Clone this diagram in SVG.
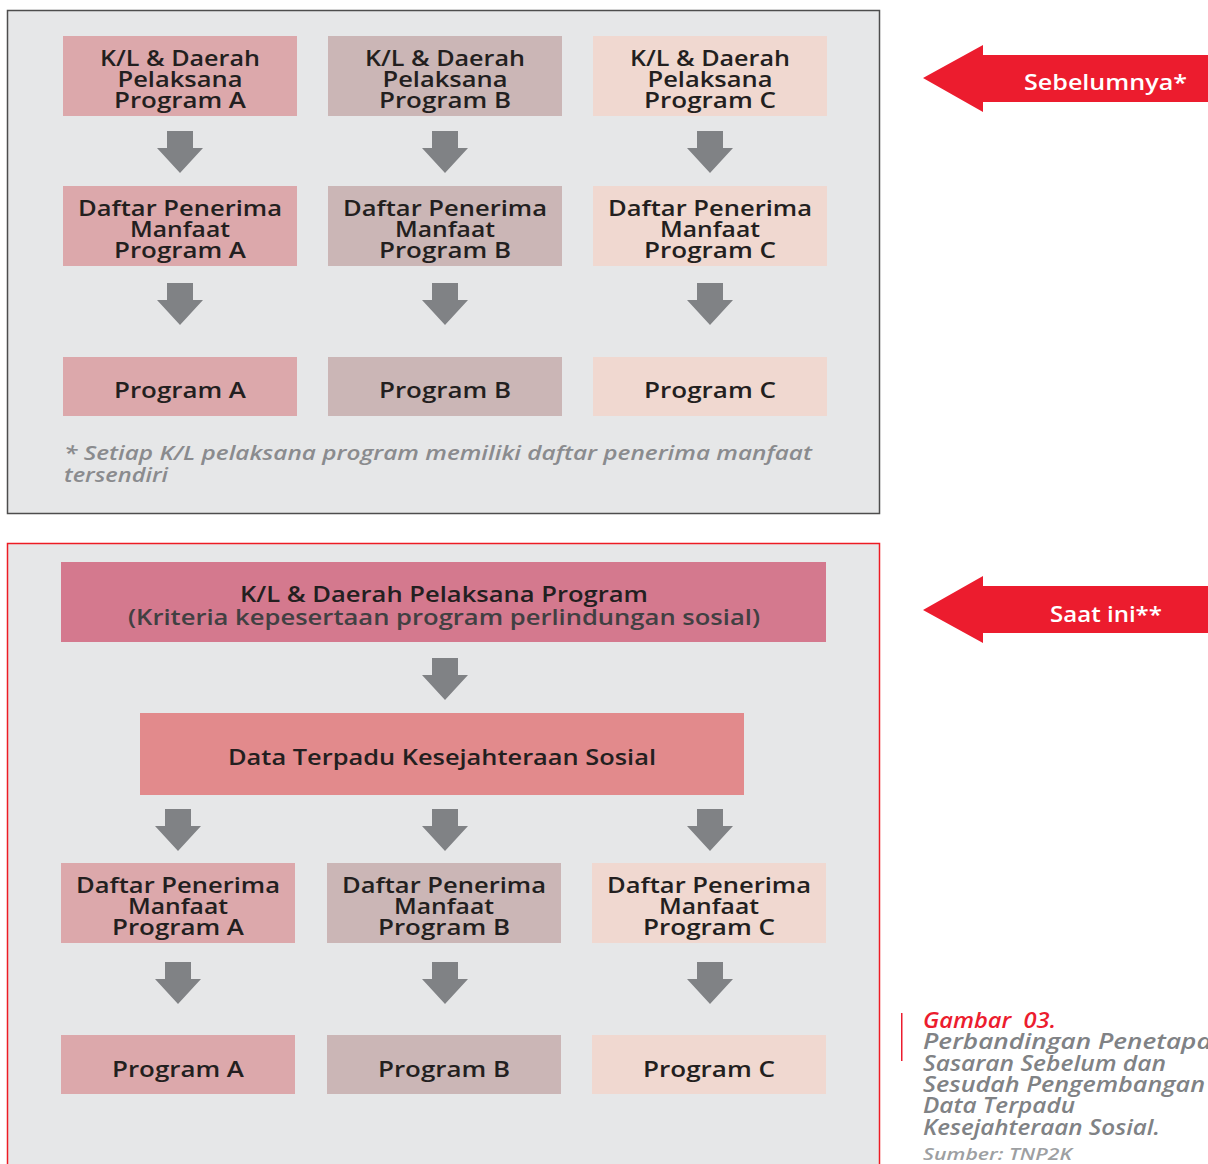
<svg xmlns="http://www.w3.org/2000/svg" width="1208" height="1164" viewBox="0 0 1208 1164">
<style>
.frame{fill:#e6e7e8}
.a{fill:#dca8ab}.b{fill:#cbb6b6}.c{fill:#f0d8d0}
.t{font-family:"Open Sans","Liberation Sans",sans-serif;font-weight:600;font-size:22px;fill:#231f20;text-anchor:middle}
.t2{fill:#414042}
.note{font-family:"Open Sans","Liberation Sans",sans-serif;font-style:italic;font-weight:600;font-size:20px;fill:#8a8b8e}
.cap{font-family:"Open Sans","Liberation Sans",sans-serif;font-style:italic;font-weight:600;font-size:21px;fill:#808285}
.red{fill:#ec1c2e}
.lbl{font-family:"Open Sans","Liberation Sans",sans-serif;font-weight:600;font-size:22px;fill:#ffffff}
.arr{fill:#808285}
</style>
<defs>
<path id="dn" d="M-13,0 h26 v17 h10 l-23,25 l-23,-25 h10 z"/>
</defs>

<!-- Top panel -->
<rect class="frame" x="7.5" y="10.5" width="872" height="503" stroke="#4d4d4d" stroke-width="1.5"/>

<g id="kl-a"><rect class="a" x="63" y="36" width="234" height="80"/>
<text class="t"><tspan x="180" y="66" textLength="160" lengthAdjust="spacingAndGlyphs">K/L &amp; Daerah</tspan><tspan x="180" y="87" textLength="125" lengthAdjust="spacingAndGlyphs">Pelaksana</tspan><tspan x="180" y="108" textLength="132" lengthAdjust="spacingAndGlyphs">Program A</tspan></text></g>
<g id="kl-b"><rect class="b" x="328" y="36" width="234" height="80"/>
<text class="t"><tspan x="445" y="66" textLength="160" lengthAdjust="spacingAndGlyphs">K/L &amp; Daerah</tspan><tspan x="445" y="87" textLength="125" lengthAdjust="spacingAndGlyphs">Pelaksana</tspan><tspan x="445" y="108" textLength="132" lengthAdjust="spacingAndGlyphs">Program B</tspan></text></g>
<g id="kl-c"><rect class="c" x="593" y="36" width="234" height="80"/>
<text class="t"><tspan x="710" y="66" textLength="160" lengthAdjust="spacingAndGlyphs">K/L &amp; Daerah</tspan><tspan x="710" y="87" textLength="125" lengthAdjust="spacingAndGlyphs">Pelaksana</tspan><tspan x="710" y="108" textLength="132" lengthAdjust="spacingAndGlyphs">Program C</tspan></text></g>

<g id="dpm-a1"><rect class="a" x="63" y="186" width="234" height="80"/>
<text class="t"><tspan x="180" y="216" textLength="204" lengthAdjust="spacingAndGlyphs">Daftar Penerima</tspan><tspan x="180" y="237" textLength="100" lengthAdjust="spacingAndGlyphs">Manfaat</tspan><tspan x="180" y="258" textLength="132" lengthAdjust="spacingAndGlyphs">Program A</tspan></text></g>
<g id="dpm-b1"><rect class="b" x="328" y="186" width="234" height="80"/>
<text class="t"><tspan x="445" y="216" textLength="204" lengthAdjust="spacingAndGlyphs">Daftar Penerima</tspan><tspan x="445" y="237" textLength="100" lengthAdjust="spacingAndGlyphs">Manfaat</tspan><tspan x="445" y="258" textLength="132" lengthAdjust="spacingAndGlyphs">Program B</tspan></text></g>
<g id="dpm-c1"><rect class="c" x="593" y="186" width="234" height="80"/>
<text class="t"><tspan x="710" y="216" textLength="204" lengthAdjust="spacingAndGlyphs">Daftar Penerima</tspan><tspan x="710" y="237" textLength="100" lengthAdjust="spacingAndGlyphs">Manfaat</tspan><tspan x="710" y="258" textLength="132" lengthAdjust="spacingAndGlyphs">Program C</tspan></text></g>

<g id="prog-a1"><rect class="a" x="63" y="357" width="234" height="59"/>
<text class="t" x="180" y="398" textLength="132" lengthAdjust="spacingAndGlyphs">Program A</text></g>
<g id="prog-b1"><rect class="b" x="328" y="357" width="234" height="59"/>
<text class="t" x="445" y="398" textLength="132" lengthAdjust="spacingAndGlyphs">Program B</text></g>
<g id="prog-c1"><rect class="c" x="593" y="357" width="234" height="59"/>
<text class="t" x="710" y="398" textLength="132" lengthAdjust="spacingAndGlyphs">Program C</text></g>

<text class="note"><tspan x="64" y="460" textLength="748" lengthAdjust="spacingAndGlyphs">* Setiap K/L pelaksana program memiliki daftar penerima manfaat</tspan><tspan x="64" y="482" textLength="104" lengthAdjust="spacingAndGlyphs">tersendiri</tspan></text>

<!-- Bottom panel -->
<rect class="frame" x="7.5" y="543.5" width="872" height="640" stroke="#ed1c24" stroke-width="1.5"/>

<g id="kl-all"><rect x="61" y="562" width="765" height="80" fill="#d4798e"/>
<text class="t"><tspan x="444" y="602" textLength="408" lengthAdjust="spacingAndGlyphs">K/L &amp; Daerah Pelaksana Program</tspan><tspan class="t2" x="444" y="625" textLength="632" lengthAdjust="spacingAndGlyphs">(Kriteria kepesertaan program perlindungan sosial)</tspan></text></g>

<g id="dtks"><rect x="140" y="713" width="604" height="82" fill="#e28a8c"/>
<text class="t" x="442" y="765" textLength="428" lengthAdjust="spacingAndGlyphs">Data Terpadu Kesejahteraan Sosial</text></g>

<g id="dpm-a2"><rect class="a" x="61" y="863" width="234" height="80"/>
<text class="t"><tspan x="178" y="893" textLength="204" lengthAdjust="spacingAndGlyphs">Daftar Penerima</tspan><tspan x="178" y="914" textLength="100" lengthAdjust="spacingAndGlyphs">Manfaat</tspan><tspan x="178" y="935" textLength="132" lengthAdjust="spacingAndGlyphs">Program A</tspan></text></g>
<g id="dpm-b2"><rect class="b" x="327" y="863" width="234" height="80"/>
<text class="t"><tspan x="444" y="893" textLength="204" lengthAdjust="spacingAndGlyphs">Daftar Penerima</tspan><tspan x="444" y="914" textLength="100" lengthAdjust="spacingAndGlyphs">Manfaat</tspan><tspan x="444" y="935" textLength="132" lengthAdjust="spacingAndGlyphs">Program B</tspan></text></g>
<g id="dpm-c2"><rect class="c" x="592" y="863" width="234" height="80"/>
<text class="t"><tspan x="709" y="893" textLength="204" lengthAdjust="spacingAndGlyphs">Daftar Penerima</tspan><tspan x="709" y="914" textLength="100" lengthAdjust="spacingAndGlyphs">Manfaat</tspan><tspan x="709" y="935" textLength="132" lengthAdjust="spacingAndGlyphs">Program C</tspan></text></g>

<g id="prog-a2"><rect class="a" x="61" y="1035" width="234" height="59"/>
<text class="t" x="178" y="1077" textLength="132" lengthAdjust="spacingAndGlyphs">Program A</text></g>
<g id="prog-b2"><rect class="b" x="327" y="1035" width="234" height="59"/>
<text class="t" x="444" y="1077" textLength="132" lengthAdjust="spacingAndGlyphs">Program B</text></g>
<g id="prog-c2"><rect class="c" x="592" y="1035" width="234" height="59"/>
<text class="t" x="709" y="1077" textLength="132" lengthAdjust="spacingAndGlyphs">Program C</text></g>

<!-- Connectors -->
<g id="connectors" class="arr">
<use href="#dn" x="180" y="131"/><use href="#dn" x="445" y="131"/><use href="#dn" x="710" y="131"/>
<use href="#dn" x="180" y="283"/><use href="#dn" x="445" y="283"/><use href="#dn" x="710" y="283"/>
<use href="#dn" x="445" y="658"/>
<use href="#dn" x="178" y="809"/><use href="#dn" x="445" y="809"/><use href="#dn" x="710" y="809"/>
<use href="#dn" x="178" y="962"/><use href="#dn" x="445" y="962"/><use href="#dn" x="710" y="962"/>
</g>

<!-- Side labels -->
<g id="sebelumnya"><path class="red" d="M923,78 L983,45 V55 H1208 V102 H983 V112 Z"/>
<text class="lbl" x="1024" y="90" textLength="163" lengthAdjust="spacingAndGlyphs">Sebelumnya*</text></g>
<g id="saat-ini"><path class="red" d="M923,610 L983,576 V586 H1208 V633 H983 V643 Z"/>
<text class="lbl" x="1050" y="622" textLength="112" lengthAdjust="spacingAndGlyphs">Saat ini**</text></g>

<!-- Caption -->
<g id="caption">
<rect x="901" y="1013" width="1.5" height="48" fill="#ec1c2e"/>
<text class="cap" x="923" y="1028" style="fill:#ec1c2e" textLength="133" lengthAdjust="spacingAndGlyphs">Gambar&#160; 03.</text>
<text class="cap"><tspan x="923" y="1049" textLength="304" lengthAdjust="spacingAndGlyphs">Perbandingan Penetapan</tspan><tspan x="923" y="1071" textLength="243" lengthAdjust="spacingAndGlyphs">Sasaran Sebelum dan</tspan><tspan x="923" y="1092" textLength="282" lengthAdjust="spacingAndGlyphs">Sesudah Pengembangan</tspan><tspan x="923" y="1113" textLength="152" lengthAdjust="spacingAndGlyphs">Data Terpadu</tspan><tspan x="923" y="1135" textLength="237" lengthAdjust="spacingAndGlyphs">Kesejahteraan Sosial.</tspan></text>
<text class="cap" x="923" y="1160" style="font-size:17px;fill:#9d9fa2" textLength="149" lengthAdjust="spacingAndGlyphs">Sumber: TNP2K</text>
</g>
</svg>
